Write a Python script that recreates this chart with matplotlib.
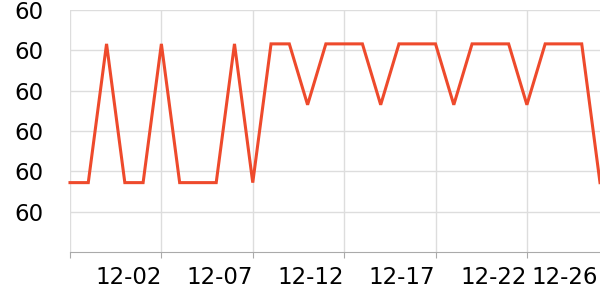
import numpy as np
import matplotlib
matplotlib.use('Agg')
import matplotlib.pyplot as plt

# daily values, 11-27 .. 12-26
dates = ['11-27', '11-28', '11-29', '11-30', '12-01', '12-02', '12-03', '12-04',
         '12-05', '12-06', '12-07', '12-08', '12-09', '12-10', '12-11', '12-12',
         '12-13', '12-14', '12-15', '12-16', '12-17', '12-18', '12-19', '12-20',
         '12-21', '12-22', '12-23', '12-24', '12-25', '12-26']
LO, HI, MID = 59.872, 60.216, 60.065
values = [LO, LO, HI, LO, LO, HI, LO, LO, LO, HI, LO, HI, HI, MID, HI,
          HI, HI, MID, HI, HI, HI, MID, HI, HI, HI, MID, HI, HI, HI, LO]
y_ticks = [59.8, 59.9, 60.0, 60.1, 60.2, 60.3]
x_tick_idx = [0, 5, 10, 15, 20, 25]

fig = plt.figure(figsize=(6, 3), dpi=100)
ax = fig.add_axes([70 / 600, 1 - 252 / 300, 530 / 600, 242 / 300])

x = np.arange(len(values))
ax.plot(x, values, color='#ee4a2c', lw=2.2, solid_joinstyle='miter', clip_on=False)

ax.set_xlim(0, len(values) - 1)
ax.set_ylim(59.7, 60.3)
ax.set_yticks(y_ticks)
ax.set_yticklabels(['%.0f' % v for v in y_ticks])
ax.set_xticks(x_tick_idx)
ax.set_xticklabels([''] + [dates[i] for i in x_tick_idx[1:]], ha='right')
ax.text(len(values) - 1.1, -0.058, dates[-1], transform=ax.get_xaxis_transform(),
        ha='right', va='top', fontsize=16.5)

ax.grid(True, color='#dddddd', lw=1)
ax.set_axisbelow(True)
for s in ['top', 'right', 'left']:
    ax.spines[s].set_visible(False)
ax.spines['bottom'].set_color('#aaaaaa')
ax.tick_params(axis='y', length=0, pad=19, labelsize=16.5)
ax.tick_params(axis='x', length=4, color='#aaaaaa', pad=6, labelsize=16.5)

fig.savefig('out.png', dpi=100)
